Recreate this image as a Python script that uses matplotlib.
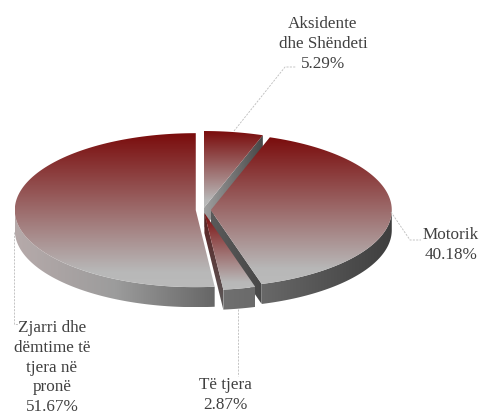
import numpy as np
import matplotlib
matplotlib.use("Agg")
import matplotlib.pyplot as plt
from matplotlib.colors import LinearSegmentedColormap as LSC
from matplotlib.patches import Polygon

categories = ["Aksidente\ndhe Shëndeti", "Motorik", "Të tjera", "Zjarri dhe\ndëmtime të\ntjera në\npronë"]
shares = [5.29, 40.18, 2.87, 51.67]
explode = [0.026, 0.043, 0.04, 0.04]

# geometry of the drawing, in pixels
CX, CY, RX, RY, DEPTH = 203.0, 210.0, 181.0, 77.0, 20.0
label_xy = [(323, 44), (451, 245), (225, 395), (52, 367.5)]
leaders = [[(234, 131), (285, 67), (296, 67)],
           [(391, 212), (410, 240), (421, 240)],
           [(238, 309), (238, 376)],
           [(14, 232), (14, 324), (18, 324)]]
side_colors = [["#6a6a6a", "#4a4a4a"], ["#686868", "#3e3e3e"], ["#707070", "#6a6a6a"],
               ["#b6aaaa", "#9c9c9c", "#666666"]]

top_cmap = LSC.from_list("top", [(0, "#7a0c0c"), (0.9, "#b8b8b8"), (1, "#bababa")])

fig = plt.figure(figsize=(4.8, 4.15), dpi=100)
ax = fig.add_axes([0, 0, 1, 1])
ax.set_axis_off()


def pt(t, ox, oy, r=1.0):
    a = np.radians(t)
    return ox + r * RX * np.sin(a), oy - r * RY * np.cos(a)


def fill(xy, cmap, z, vertical):
    xy = np.asarray(xy)
    x0, y0 = xy.min(axis=0)
    x1, y1 = xy.max(axis=0)
    patch = Polygon(xy, closed=True, fc="none", ec="none", zorder=z)
    ax.add_patch(patch)
    g = np.linspace(0, 1, 256)
    g = g[:, None] if vertical else g[None, :]
    im = ax.imshow(g, cmap=cmap, vmin=0, vmax=1, extent=(x0, x1, y1, y0),
                   aspect="auto", interpolation="bilinear", zorder=z)
    im.set_clip_path(patch)


def arc(a, b, ox, oy):
    ts = np.linspace(a, b, 120)
    return np.column_stack(pt(ts, ox, oy))


fractions = np.asarray(shares) / sum(shares)
edges = np.concatenate([[0], np.cumsum(fractions) * 360])
z = 1
for i, (a, b) in enumerate(zip(edges[:-1], edges[1:])):
    mid = np.radians((a + b) / 2)
    ox = CX + explode[i] * RX * np.sin(mid)
    oy = CY - explode[i] * RY * np.cos(mid)
    apex = np.array([ox, oy])
    down = np.array([0, DEPTH])
    side_map = LSC.from_list("s", side_colors[i])

    # outer wall: only the part of the rim on the near side
    lo, hi = max(a, 90), min(b, 270)
    if hi > lo:
        rim = arc(lo, hi, ox, oy)
        fill(np.vstack([rim, (rim + down)[::-1]]), side_map, z, False)
        z += 1
    # radial wall at the end that faces the viewer
    if i == 0:
        end = np.array(pt(b, ox, oy))
        fill([apex, end, end + down, apex + down], LSC.from_list("w", ["#a0a0a0", "#454545"]), z, False)
    elif i == 1:
        end = np.array(pt(b, ox, oy))
        fill([apex, end, end + down, apex + down], LSC.from_list("w", ["#5a5a5a", "#484848"]), z, False)
    elif i == 2:
        end = np.array(pt(b, ox, oy))
        fill([apex, end, end + down, apex + down], LSC.from_list("w", ["#5a2020", "#5c5c5c"]), z, True)
    z += 1
    fill(np.vstack([apex, arc(a, b, ox, oy)]), top_cmap, z, True)
    z += 1

for pts in leaders:
    xs, ys = zip(*pts)
    ax.plot(xs, ys, color="#bcbcbc", lw=0.6, ls=(0, (2.5, 1.5)), zorder=z)

for cat, val, (tx, ty) in zip(categories, shares, label_xy):
    ax.text(tx, ty, f"{cat}\n{val:.2f}%", ha="center", va="center", color="#404040",
            fontsize=12.3, family="Liberation Serif", linespacing=1.33, zorder=z + 1)

ax.set_xlim(0, 480)
ax.set_ylim(415, 0)
fig.savefig("out.png", dpi=100, facecolor="white")
